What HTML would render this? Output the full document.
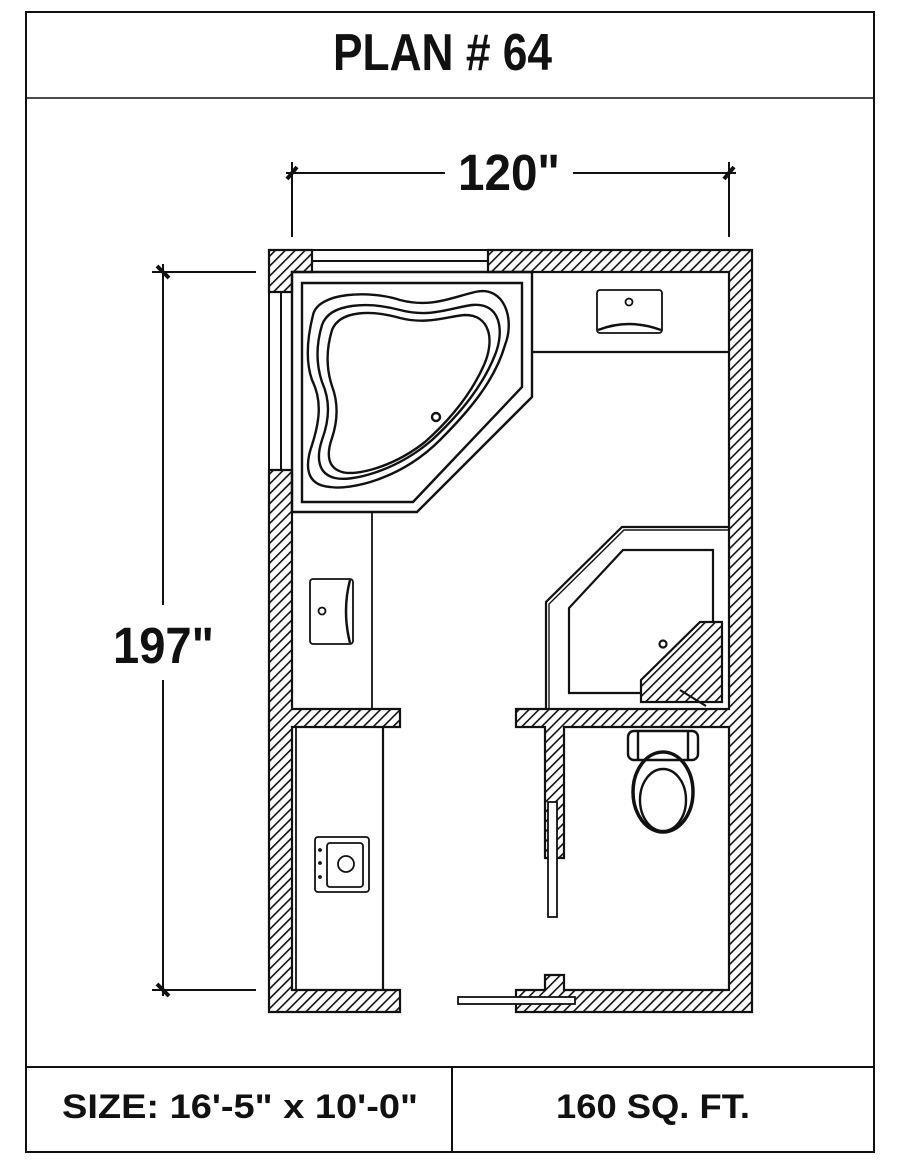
<!DOCTYPE html>
<html><head><meta charset="utf-8"><style>
html,body{margin:0;padding:0;background:#fff}
svg{display:block}
text{font-family:"Liberation Sans",Arial,sans-serif;fill:#111;font-weight:bold}
</style></head><body>
<svg width="900" height="1165" viewBox="0 0 900 1165" xmlns="http://www.w3.org/2000/svg">
<defs>
<pattern id="h" width="7" height="7" patternUnits="userSpaceOnUse" patternTransform="rotate(45)">
<rect width="7" height="7" fill="#fff"/>
<line x1="0" y1="0" x2="0" y2="7" stroke="#111" stroke-width="3.2"/>
</pattern>
</defs>
<g fill="none" stroke="#111">
<rect x="26" y="12" width="848" height="1140" stroke-width="2"/>
<line x1="26" y1="98" x2="874" y2="98" stroke-width="1.5"/>
<line x1="26" y1="1067" x2="874" y2="1067" stroke-width="2"/>
<line x1="452" y1="1067" x2="452" y2="1152" stroke-width="2"/>

<g stroke-width="2">
<line x1="292" y1="162" x2="292" y2="237"/>
<line x1="729" y1="162" x2="729" y2="237"/>
<line x1="286" y1="173" x2="445" y2="173"/>
<line x1="573" y1="173" x2="736" y2="173"/>
<line x1="287" y1="179" x2="297" y2="167" stroke-width="4"/>
<line x1="724" y1="179" x2="734" y2="167" stroke-width="4"/>
<line x1="152" y1="272" x2="256" y2="272"/>
<line x1="152" y1="990" x2="256" y2="990"/>
<line x1="163" y1="264" x2="163" y2="605"/>
<line x1="163" y1="680" x2="163" y2="996"/>
<line x1="157" y1="266" x2="169" y2="278" stroke-width="4"/>
<line x1="157" y1="984" x2="169" y2="996" stroke-width="4"/>
</g>

<g fill="url(#h)" stroke-width="2.2">
<polygon points="269,250 312,250 312,272 292,272 292,292 269,292"/>
<polygon points="269,470 292,470 292,709 400,709 400,727 292,727 292,990 400,990 400,1012 269,1012"/>
<polygon points="488,250 752,250 752,1012 516,1012 516,990 545,990 545,975 564,975 564,990 729,990 729,727 564,727 564,858 545,858 545,727 516,727 516,709 729,709 729,272 488,272"/>
</g>
<g stroke-width="2">
<line x1="312" y1="250" x2="488" y2="250"/>
<line x1="312" y1="261" x2="488" y2="261"/>
<line x1="312" y1="272" x2="488" y2="272"/>
<line x1="269" y1="292" x2="269" y2="470"/>
<line x1="281" y1="292" x2="281" y2="470"/>
<line x1="292" y1="292" x2="292" y2="470"/>
</g>

<g stroke-width="2.4">
<polygon points="292,272 532,272 532,397 417,512 292,512"/>
<polygon points="302,283 522,283 522,387 413,502 302,502"/>
<path d="M313,315 C318,292 370,290 400,300 C430,308 450,298 475,292 C505,285 515,320 505,345 C495,380 470,410 440,440 C400,480 350,490 330,487 C305,485 305,465 312,445 C320,420 322,400 312,380 C305,360 308,335 313,315 Z"/>
<path d="M322,325 C330,302 370,302 400,310 C430,318 450,308 472,305 C500,302 505,330 495,355 C483,385 462,412 432,440 C395,472 350,482 335,478 C318,474 316,458 322,440 C330,418 330,400 322,382 C316,364 316,345 322,325 Z"/>
<path d="M332,330 C340,310 372,310 400,318 C428,325 448,316 465,315 C490,315 495,340 484,365 C472,392 452,418 425,442 C392,468 355,476 342,472 C328,468 326,455 332,438 C338,420 338,402 332,386 C326,368 326,350 332,330 Z"/>
<circle cx="436" cy="417" r="4"/>
</g>

<g stroke-width="1.8">
<line x1="532" y1="352" x2="729" y2="352" stroke-width="2.2"/>
<line x1="532" y1="272" x2="532" y2="352"/>
<line x1="292" y1="512" x2="372" y2="512"/>
<line x1="372" y1="512" x2="372" y2="709"/>
<line x1="383" y1="727" x2="383" y2="990" stroke-width="2.2"/>
<line x1="296" y1="727" x2="296" y2="990"/>
<rect x="597" y="290" width="65" height="43" rx="3"/>
<path d="M598,330 Q629,318 661,330" stroke-width="2.5"/>
<circle cx="629" cy="302" r="3.5"/>
<rect x="310" y="579" width="43" height="65" rx="3"/>
<path d="M350,580 Q342,611 350,643" stroke-width="2.5"/>
<circle cx="322" cy="611" r="3.5"/>
<rect x="315" y="837" width="54" height="55" rx="3"/>
<rect x="327" y="843" width="36" height="44" rx="3"/>
<circle cx="346" cy="864" r="8"/>
<circle cx="320" cy="850" r="1"/><circle cx="320" cy="863" r="1"/><circle cx="320" cy="877" r="1"/>
</g>

<g stroke-width="2.2">
<polyline points="546,709 546,602 622,527 729,527"/>
<polyline points="549,709 549,604 624,530 729,530" stroke-width="1.4"/>
<polygon points="569,693 569,608 623,550 713,550 713,693"/>
<circle cx="663" cy="644" r="3.5"/>
<polygon points="641,680 700,622 722,622 722,702 641,702" fill="url(#h)"/>
<line x1="680" y1="690" x2="706" y2="706"/>
</g>

<g stroke-width="2.4">
<rect x="628" y="731" width="70" height="29" rx="6"/>
<line x1="638" y1="731" x2="638" y2="760"/>
<line x1="688" y1="731" x2="688" y2="760"/>
<ellipse cx="663" cy="792" rx="30" ry="40" stroke-width="3.5"/>
<ellipse cx="663" cy="800" rx="23" ry="31"/>
</g>

<g stroke-width="1.8" fill="#fff">
<rect x="548" y="802" width="9" height="115"/>
<rect x="458" y="997" width="117" height="7"/>
</g>
</g>

<text x="333" y="70" font-size="52" textLength="219" lengthAdjust="spacingAndGlyphs">PLAN # 64</text>
<text x="458" y="190" font-size="51" textLength="102" lengthAdjust="spacingAndGlyphs">120"</text>
<text x="113" y="663" font-size="51" textLength="101" lengthAdjust="spacingAndGlyphs">197"</text>
<text x="62" y="1118" font-size="34" textLength="356" lengthAdjust="spacingAndGlyphs">SIZE:  16'-5" x 10'-0"</text>
<text x="556" y="1118" font-size="34" textLength="194" lengthAdjust="spacingAndGlyphs">160 SQ. FT.</text>
</svg>
</body></html>
